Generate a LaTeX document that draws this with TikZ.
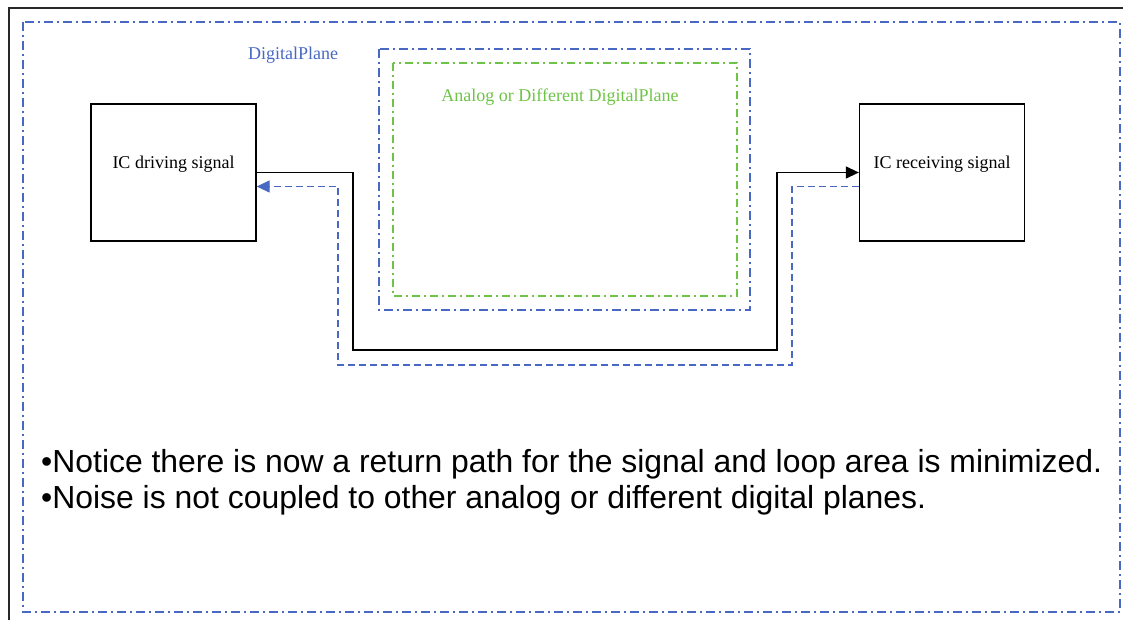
\documentclass[tikz,border=0pt]{standalone}
\usepackage{fontspec}
\setmainfont{Liberation Serif}
\newfontfamily\bulletfont{Liberation Sans}
\usetikzlibrary{arrows.meta}
\definecolor{planeblue}{RGB}{72,104,196}
\definecolor{planegreen}{RGB}{110,196,70}
\definecolor{framegray}{RGB}{40,40,40}

\begin{document}
\begin{tikzpicture}[x=1pt,y=-1pt,
	font=\fontsize{18}{21}\selectfont,
	box/.style={draw=black,line width=1.3pt,minimum width=165pt,minimum height=137pt,inner sep=0pt},
	plane/.style={draw=planeblue,line width=1.1pt,dash pattern=on 9pt off 4pt on 2pt off 4pt},
	aplane/.style={draw=planegreen,line width=1.1pt,dash pattern=on 8pt off 4pt on 2pt off 4pt},
	signal/.style={draw=black,line width=1.3pt,-{Triangle[length=13pt,width=12pt]}},
	return/.style={draw=planeblue,line width=1.3pt,dash pattern=on 7pt off 4pt,-{Triangle[length=13pt,width=12pt]}}]

  \useasboundingbox (0,0) rectangle (1123,620);

  % frame and planes
  \draw[framegray,line width=2pt] (9,620) -- (9,8) -- (1123,8);
  \draw[plane] (23,22) rectangle (1120,612);
  \draw[plane] (379,49) rectangle (750,310);
  \draw[aplane] (393,63) rectangle (737,296);

  \node [text=planeblue] (dp) at (293,55) {DigitalPlane};
  \node [text=planegreen] (ap) at (560,97) {Analog or Different DigitalPlane};

  % the two ICs
  \node [box] (drv) at (173.5,172.5) {};
  \node [box, right of=drv, node distance=768.5pt] (rcv) {};
  \node [yshift=8pt] (drvtext) at (drv.center) {IC driving signal};
  \node [yshift=8pt] (rcvtext) at (rcv.center) {IC receiving signal};

  % signal and its return path
  \coordinate (sigL) at (353,350);
  \coordinate (sigR) at (777,350);
  \coordinate (retL) at (338,365);
  \coordinate (retR) at (792,365);

  \draw[signal] (drv.east) -| (sigL) -- (sigR) |- (rcv.west);
  \draw[return] ([yshift=-14pt]rcv.west) -| (retR) -- (retL) |- ([yshift=-14pt]drv.east);

  \node [anchor=base west, font=\bulletfont\fontsize{31.9}{36}\selectfont, align=left, inner sep=0pt] (notes) at (41,508)
	{\textbullet Notice there is now a return path for the signal and loop area is minimized.\\
	 \textbullet Noise is not coupled to other analog or different digital planes.};

\end{tikzpicture}
\end{document}
